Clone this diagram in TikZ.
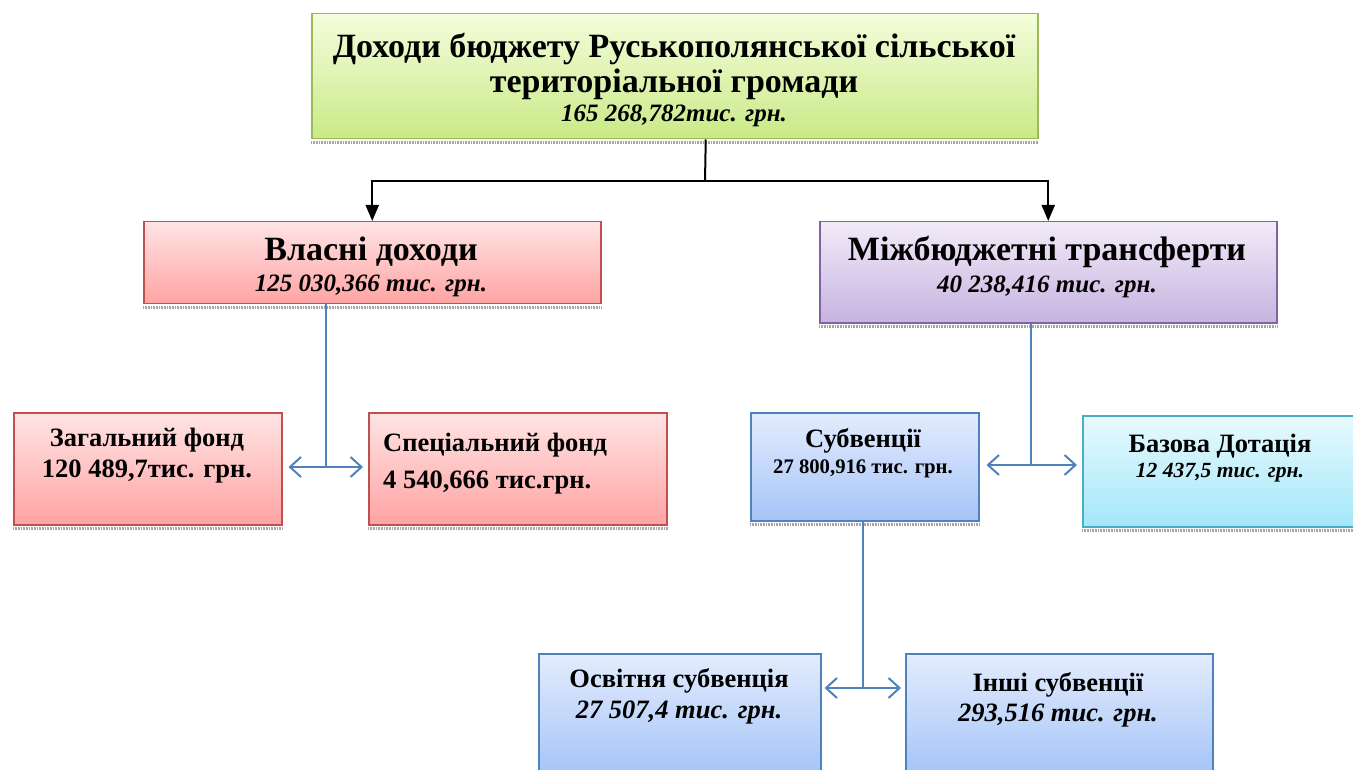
\documentclass[tikz,border=0pt]{standalone}
\usepackage{fontspec}
\setmainfont{Liberation Serif}
\usetikzlibrary{arrows.meta}
\definecolor{gB}{HTML}{9BBB59}\definecolor{gT}{HTML}{F4FDDC}\definecolor{gD}{HTML}{C9EA86}
\definecolor{rB}{HTML}{C0504D}\definecolor{rT}{HTML}{FFE4E4}\definecolor{rD}{HTML}{FFA3A3}
\definecolor{pB}{HTML}{8064A2}\definecolor{pT}{HTML}{F1EBF8}\definecolor{pD}{HTML}{C7B3E0}
\definecolor{bB}{HTML}{4F81BD}\definecolor{bT}{HTML}{E3ECFD}\definecolor{bD}{HTML}{A6C4F8}
\definecolor{cB}{HTML}{4BACC6}\definecolor{cT}{HTML}{E8FAFE}\definecolor{cD}{HTML}{A3E7F9}
\tikzset{
  box/.style={draw=#1B, line width=1.5pt, top color=#1T, bottom color=#1D, inner sep=0pt, anchor=north west},
  shd/.style={draw=gray!70, line width=3pt, dash pattern=on 1pt off 0.6pt},
  blk/.style={draw=black, line width=2pt},
  bl/.style={draw=bB, line width=2pt},
  bigt/.style={font=\bfseries\fontsize{34}{35}\selectfont, align=center, inner sep=0pt},
  midt/.style={font=\bfseries\fontsize{26.5}{31}\selectfont, align=center, inner sep=0pt},
  ital/.style={font=\bfseries\itshape\fontsize{25}{28}\selectfont, inner sep=0pt},
  itam/.style={font=\bfseries\itshape\fontsize{26.5}{28}\selectfont, inner sep=0pt},
  barb/.style={-{Straight Barb[length=11pt,width=20pt]}},
  tri/.style={-{Triangle[length=16pt,width=13pt]}},
}
\newcommand{\shadowunder}[1]{\draw[shd] ([yshift=-3pt]#1.south west) -- ([yshift=-3pt]#1.south east);}
\begin{document}
\begin{tikzpicture}[x=1pt,y=-1pt]
\useasboundingbox (0,0) rectangle (1353,770);
% boxes
\node[box=g, minimum width=726pt, minimum height=125pt] (top) at (311,13) {};
\node[box=r, minimum width=457pt, minimum height=82pt] (own) at (143,221) {};
\node[box=p, minimum width=457pt, minimum height=101pt] (tr) at (819,221) {};
\node[box=r, minimum width=268pt, minimum height=112pt] (gen) at (13,412) {};
\node[box=r, minimum width=298pt, minimum height=112pt] (spec) at (368,412) {};
\node[box=b, minimum width=228pt, minimum height=108pt] (sub) at (750,412) {};
\node[box=c, minimum width=275pt, minimum height=111pt] (baz) at (1082,415) {};
\node[box=b, minimum width=282pt, minimum height=120pt] (osv) at (538,653) {};
\node[box=b, minimum width=307pt, minimum height=120pt] (inshi) at (905,653) {};
\foreach \n in {top,own,tr,gen,spec,sub,baz}{\shadowunder{\n}}
% texts
\begin{scope}[yshift=-3pt]
\node[bigt] (t1) at (674,63) {Доходи бюджету Руськополянської сільської\\територіальної громади};
\node[ital] (t1a) at (674,113) {165 268,782тис. грн.};
\node[bigt] (t2) at (371,249) {Власні доходи};
\node[ital] (t2a) at (371,283) {125 030,366 тис. грн.};
\node[bigt] (t3) at (1047,249) {Міжбюджетні трансферти};
\node[ital] (t3a) at (1047,284) {40 238,416 тис. грн.};
\node[midt] (t4) at (147,453) {Загальний фонд\\120 489,7тис. грн.};
\node[midt, align=left, anchor=west, font=\bfseries\fontsize{26.5}{37}\selectfont] (t5) at (383,461) {Спеціальний фонд\\4 540,666 тис.грн.};
\node[midt] (t6) at (863,438) {Субвенції};
\node[font=\bfseries\fontsize{20.7}{22}\selectfont, inner sep=0pt] (t6a) at (863,466) {27 800,916 тис. грн.};
\node[midt] (t7) at (1220,443) {Базова Дотація};
\node[font=\bfseries\itshape\fontsize{21.6}{24}\selectfont, inner sep=0pt] (t7a) at (1220,470) {12 437,5 тис. грн.};
\node[midt] (t8) at (679,678) {Освітня субвенція};
\node[itam] (t8a) at (679,710) {27 507,4 тис. грн.};
\node[midt] (t9) at (1058,682) {Інші субвенції};
\node[itam] (t9a) at (1058,713) {293,516 тис. грн.};
\end{scope}
% black connectors
\coordinate (j1) at (705,181);
\draw[blk] ([xshift=31pt]top.south) -- (j1);
\draw[blk, tri] (j1) -| (own.north);
\draw[blk, tri] (j1) -| (tr.north);
% blue connectors
\coordinate (j2) at (326,467);
\draw[bl] (own.south -| j2) -- (j2);
\draw[bl, barb, shorten >=6pt] (j2) -- (j2 -| gen.east);
\draw[bl, barb, shorten >=5pt] (j2) -- (j2 -| spec.west);
\coordinate (j3) at (1031,465);
\draw[bl] (tr.south -| j3) -- (j3);
\draw[bl, barb, shorten >=7pt] (j3) -- (j3 -| sub.east);
\draw[bl, barb, shorten >=5pt] (j3) -- (j3 -| baz.west);
\coordinate (j4) at (863,688);
\draw[bl] (sub.south -| j4) -- (j4);
\draw[bl, barb, shorten >=3pt] (j4) -- (j4 -| osv.east);
\draw[bl, barb, shorten >=4pt] (j4) -- (j4 -| inshi.west);
\end{tikzpicture}
\end{document}
